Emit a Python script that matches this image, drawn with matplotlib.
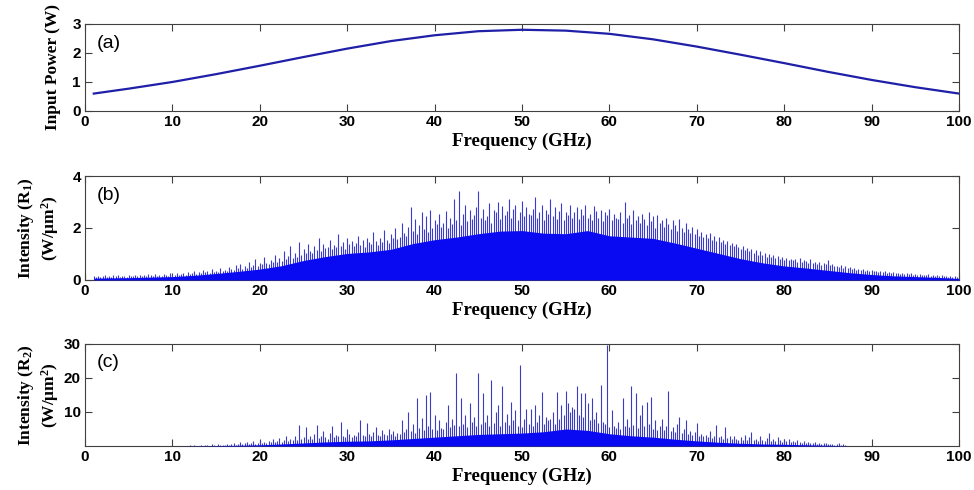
import matplotlib
matplotlib.use('Agg')
from matplotlib import rcParams
rcParams['font.family'] = ['Liberation Sans', 'DejaVu Sans']
rcParams['mathtext.fontset'] = 'custom'
rcParams['mathtext.rm'] = 'Liberation Serif:bold'
rcParams['mathtext.bf'] = 'Liberation Serif:bold'
rcParams['mathtext.it'] = 'Liberation Serif:bold'
rcParams['mathtext.default'] = 'bf'
import matplotlib.pyplot as plt
import numpy as np

# (a) input power across the comb
power_freq = [1, 5, 10, 15, 20, 25, 30, 35, 40, 45, 50,
              55, 60, 65, 70, 75, 80, 85, 90, 95, 100]
power_w = [0.60, 0.77, 1.00, 1.27, 1.56, 1.86, 2.15, 2.41, 2.61, 2.75, 2.80,
           2.77, 2.66, 2.47, 2.22, 1.94, 1.65, 1.35, 1.07, 0.82, 0.60]

# spike grid for (b) and (c), 0.25 GHz apart (20 per 5 GHz row)
spike_freq = np.arange(1.0, 100.01, 0.25)

# floor grid (dense part of the spectrum), 2.5 GHz apart
floor_freq = np.r_[1, np.arange(2.5, 100.01, 2.5)]

# (b) ring R1 intensity
r1_floor = [0.07, 0.08, 0.09, 0.11, 0.13, 0.18, 0.25, 0.33, 0.42, 0.55,
            0.75, 0.90, 1.02, 1.08, 1.18, 1.40, 1.55, 1.65, 1.78, 1.88,
            1.90, 1.80, 1.78, 1.90, 1.70, 1.65, 1.60, 1.42, 1.22, 1.02,
            0.82, 0.66, 0.54, 0.46, 0.37, 0.28, 0.21, 0.16, 0.13, 0.10,
            0.06]
r1_spikes = [
    0.14, 0.11, 0.17, 0.12, 0.15, 0.19, 0.13, 0.16, 0.12, 0.18, 0.14, 0.20, 0.13, 0.17, 0.15, 0.12, 0.19, 0.16, 0.14, 0.18,
    0.16, 0.21, 0.15, 0.19, 0.14, 0.23, 0.18, 0.16, 0.22, 0.17, 0.20, 0.15, 0.24, 0.19, 0.17, 0.26, 0.20, 0.18, 0.25, 0.21,
    0.22, 0.28, 0.20, 0.31, 0.24, 0.27, 0.35, 0.23, 0.30, 0.26, 0.38, 0.29, 0.33, 0.27, 0.42, 0.31, 0.36, 0.30, 0.45, 0.34,
    0.40, 0.36, 0.50, 0.43, 0.38, 0.56, 0.45, 0.62, 0.41, 0.52, 0.48, 0.70, 0.50, 0.58, 0.82, 0.55, 0.64, 0.60, 0.90, 0.66,
    0.62, 0.78, 0.70, 0.95, 0.68, 0.85, 0.74, 1.12, 0.80, 0.92, 1.30, 0.86, 1.05, 0.90, 1.47, 0.98, 1.20, 1.02, 1.38, 1.10,
    1.05, 1.32, 1.15, 1.60, 1.10, 1.40, 1.22, 1.28, 1.52, 1.18, 1.35, 1.25, 1.78, 1.30, 1.45, 1.20, 1.62, 1.38, 1.50, 1.30,
    1.42, 1.70, 1.35, 1.55, 1.28, 1.62, 1.45, 1.40, 1.85, 1.50, 1.36, 1.60, 1.48, 1.92, 1.55, 1.42, 1.75, 1.60, 2.00, 1.58,
    1.65, 2.20, 1.80, 1.70, 2.05, 2.80, 1.90, 2.35, 1.75, 2.10, 2.60, 1.95, 2.45, 1.85, 2.70, 2.00, 2.30, 2.15, 2.55, 2.05,
    2.20, 2.65, 2.00, 2.40, 2.15, 3.10, 2.30, 3.42, 2.10, 2.55, 2.90, 2.25, 2.70, 2.35, 2.50, 2.80, 3.44, 2.40, 2.75, 2.30,
    2.45, 2.95, 2.20, 2.70, 2.60, 3.00, 2.35, 2.85, 2.50, 2.65, 3.10, 2.40, 2.75, 2.90, 2.30, 2.60, 3.05, 2.45, 2.80, 2.55,
    2.50, 2.75, 3.20, 2.40, 2.60, 2.90, 2.30, 2.70, 2.55, 3.12, 2.45, 2.80, 2.35, 2.65, 2.95, 2.30, 2.60, 2.50, 2.90, 2.40,
    2.60, 2.80, 2.35, 2.75, 2.50, 2.90, 2.40, 2.55, 2.30, 2.85, 2.65, 2.40, 2.70, 2.25, 2.60, 2.50, 2.75, 2.30, 2.55, 2.40,
    2.35, 2.60, 2.20, 3.00, 2.40, 2.50, 2.15, 2.70, 2.30, 2.45, 2.20, 2.55, 2.35, 2.10, 2.60, 2.25, 2.45, 2.00, 2.50, 2.20,
    2.30, 2.05, 2.40, 2.15, 1.95, 2.30, 2.10, 1.90, 2.35, 2.00, 1.85, 2.20, 1.95, 1.80, 2.05, 1.75, 1.95, 1.70, 1.86, 1.65,
    1.75, 1.60, 1.80, 1.55, 1.70, 1.50, 1.65, 1.45, 1.54, 1.40, 1.50, 1.35, 1.42, 1.30, 1.38, 1.25, 1.20, 1.32, 1.15, 1.22,
    1.10, 1.20, 1.05, 1.15, 0.98, 1.12, 0.95, 1.05, 0.90, 1.00, 0.88, 0.95, 0.85, 0.92, 0.80, 0.90, 0.78, 0.86, 0.75, 0.82,
    0.75, 0.80, 0.70, 0.84, 0.68, 0.76, 0.72, 0.64, 0.80, 0.66, 0.70, 0.62, 0.68, 0.58, 0.66, 0.60, 0.77, 0.56, 0.62, 0.52,
    0.55, 0.50, 0.58, 0.47, 0.52, 0.45, 0.49, 0.42, 0.46, 0.40, 0.43, 0.38, 0.41, 0.36, 0.39, 0.34, 0.38, 0.33, 0.36, 0.31,
    0.33, 0.30, 0.34, 0.28, 0.31, 0.27, 0.30, 0.25, 0.28, 0.24, 0.27, 0.23, 0.26, 0.22, 0.25, 0.21, 0.24, 0.20, 0.23, 0.19,
    0.21, 0.18, 0.22, 0.17, 0.20, 0.16, 0.19, 0.15, 0.18, 0.14, 0.17, 0.13, 0.15, 0.12, 0.14, 0.11, 0.10]

# (c) ring R2 intensity
r2_floor = [0.0, 0.0, 0.0, 0.0, 0.0, 0.05, 0.1, 0.2, 0.35, 0.6,
            0.9, 1.2, 1.4, 1.5, 1.8, 2.2, 2.6, 3.0, 3.4, 3.6,
            3.8, 4.2, 5.0, 4.6, 3.6, 3.0, 2.6, 2.0, 1.5, 1.1,
            0.8, 0.6, 0.5, 0.35, 0.2, 0.0, 0.0, 0.0, 0.0, 0.0,
            0.0]
r2_spikes = [
    0, 0, 0, 0, 0, 0, 0, 0, 0, 0, 0, 0, 0, 0, 0, 0, 0, 0, 0, 0,
    0, 0, 0, 0, 0, 0, 0, 0, 0, 0, 0, 0, 0, 0, 0, 0, 0, 0, 0, 0,
    0, 0, 0, 0, 0.2, 0, 0.3, 0, 0.1, 0.4, 0, 0.2, 0.3, 0, 0.5, 0.2, 0.1, 0.6, 0.3, 0.2,
    0.4, 0.7, 0.3, 0.5, 0.9, 0.4, 0.6, 1.1, 0.5, 0.8, 1.3, 0.6, 0.9, 1.5, 0.7, 1.0, 1.8, 0.9, 1.2, 1.0,
    1.4, 1.1, 2.0, 1.3, 1.6, 2.4, 1.2, 1.8, 2.8, 1.5, 2.2, 1.7, 3.0, 1.9, 6.2, 2.1, 2.5, 5.7, 2.0, 2.8,
    2.2, 3.5, 6.2, 2.4, 3.0, 4.5, 2.6, 2.2, 3.8, 6.0, 2.5, 3.2, 2.8, 7.2, 3.0, 2.6, 5.0, 3.4, 2.7, 3.1,
    3.0, 4.2, 7.6, 3.2, 2.8, 6.8, 3.5, 3.0, 4.0, 5.5, 3.2, 2.9, 4.8, 3.6, 3.1, 5.0, 3.4, 4.4, 3.0, 3.8,
    3.6, 7.5, 4.2, 5.0, 10.1, 4.5, 6.5, 3.8, 14.0, 5.2, 8.1, 4.6, 15.0, 6.0, 16.0, 5.0, 9.1, 4.8, 7.5, 5.4,
    5.0, 7.0, 12.0, 5.5, 8.0, 6.2, 21.6, 5.8, 14.0, 6.5, 9.0, 5.6, 12.5, 7.0, 8.5, 6.0, 21.4, 6.4, 15.5, 7.2,
    9.0, 6.0, 19.4, 6.8, 10.0, 12.0, 5.8, 17.5, 7.0, 9.5, 6.2, 13.0, 7.5, 10.5, 6.0, 23.8, 5.6, 8.0, 11.0, 6.5,
    11.0, 6.0, 12.0, 7.2, 9.0, 16.0, 6.4, 8.5, 7.5, 8.0, 10.0, 6.6, 16.0, 8.0, 12.0, 9.0, 16.3, 12.5, 10.0, 11.5,
    11.0, 17.5, 9.0, 15.5, 8.5, 15.5, 12.5, 7.6, 14.0, 8.0, 10.0, 6.8, 18.0, 7.0, 6.5, 29.7, 5.5, 10.6, 6.0, 5.2,
    7.0, 5.0, 14.0, 6.0, 8.0, 5.5, 17.5, 6.2, 15.5, 5.4, 9.0, 12.0, 5.8, 13.0, 6.5, 14.5, 5.0, 7.5, 4.8, 6.0,
    8.0, 4.6, 6.0, 16.3, 4.4, 5.5, 4.0, 6.5, 8.6, 3.8, 5.0, 7.6, 3.6, 4.5, 3.2, 4.0, 6.7, 3.0, 3.5, 2.8,
    3.2, 2.6, 4.5, 2.4, 3.0, 6.2, 2.5, 3.0, 2.2, 5.6, 2.4, 2.8, 2.0, 3.0, 2.2, 1.8, 2.6, 1.9, 3.2, 1.7,
    2.5, 4.2, 1.8, 2.2, 1.6, 3.0, 1.9, 1.5, 2.4, 3.7, 1.6, 2.0, 1.4, 2.5, 1.7, 1.3, 2.0, 1.5, 2.2, 1.2,
    1.5, 1.1, 1.8, 1.2, 1.0, 1.6, 0.9, 1.2, 0.8, 1.0, 1.3, 0.7, 0.9, 0.6, 0.8, 1.0, 0.5, 0.7, 0.6, 0.4,
    0.6, 1.0, 0.4, 0.5, 0.3, 0, 0, 0, 0, 0, 0, 0, 0, 0, 0, 0, 0, 0, 0, 0,
    0, 0, 0, 0, 0, 0, 0, 0, 0, 0, 0, 0, 0, 0, 0, 0, 0, 0, 0, 0,
    0, 0, 0, 0, 0, 0, 0, 0, 0, 0, 0, 0, 0, 0, 0, 0, 0]

xticks = list(range(0, 101, 10))
serif_bold = {'family': 'Liberation Serif', 'weight': 'bold'}
frame = '#404040'

fig = plt.figure(figsize=(9.74, 4.90), dpi=100)
ax1 = fig.add_axes([0.0873, 0.7735, 0.8973, 0.1776])
ax2 = fig.add_axes([0.0873, 0.4286, 0.8973, 0.2122])
ax3 = fig.add_axes([0.0873, 0.0898, 0.8973, 0.2082])

ax1.plot(power_freq, power_w, color='#1f1fa8', lw=1.6)
ax1.set_ylim(0, 3)
ax1.set_yticks([0, 1, 2, 3])
ax1.set_ylabel('Input Power (W)', fontdict=serif_bold, fontsize=12.5)
ax1.text(0.013, 0.78, '(a)', transform=ax1.transAxes, fontsize=14, va='center')

ax2.vlines(spike_freq, 0, r1_spikes, color='#3b3bd0', lw=0.8)
ax2.fill_between(floor_freq, 0, r1_floor, color='#0a0af2', lw=0, zorder=3)
ax2.set_ylim(0, 4)
ax2.set_yticks([0, 2, 4])
ax2.set_ylabel('Intensity (R$_1$)\n(W/\u03bcm$^2$)', fontdict=serif_bold, fontsize=12.5)
ax2.text(0.013, 0.81, '(b)', transform=ax2.transAxes, fontsize=14, va='center')

ax3.vlines(spike_freq, 0, r2_spikes, color='#3b3bc4', lw=0.8)
ax3.fill_between(floor_freq, 0, r2_floor, color='#0a0af2', lw=0, zorder=3)
ax3.set_ylim(0, 30)
ax3.set_yticks([10, 20, 30])
ax3.set_ylabel('Intensity (R$_2$)\n(W/\u03bcm$^2$)', fontdict=serif_bold, fontsize=12.5)
ax3.text(0.013, 0.82, '(c)', transform=ax3.transAxes, fontsize=14, va='center')

for ax in (ax1, ax2, ax3):
    ax.set_xlim(0, 100)
    ax.set_xticks(xticks)
    ax.set_xlabel('Frequency (GHz)', fontdict=serif_bold, fontsize=13.5, labelpad=2.5)
    ax.tick_params(axis='both', which='major', direction='in', right=True, top=True,
                   length=5, width=0.8, color=frame, labelsize=11, pad=3)
    for lab in ax.get_xticklabels() + ax.get_yticklabels():
        lab.set_fontweight('bold')
    for sp in ax.spines.values():
        sp.set_color(frame)
        sp.set_linewidth(0.8)
    ax.yaxis.set_label_coords(-0.028, 0.5)

fig.savefig('out.png', dpi=100)
plt.close(fig)
